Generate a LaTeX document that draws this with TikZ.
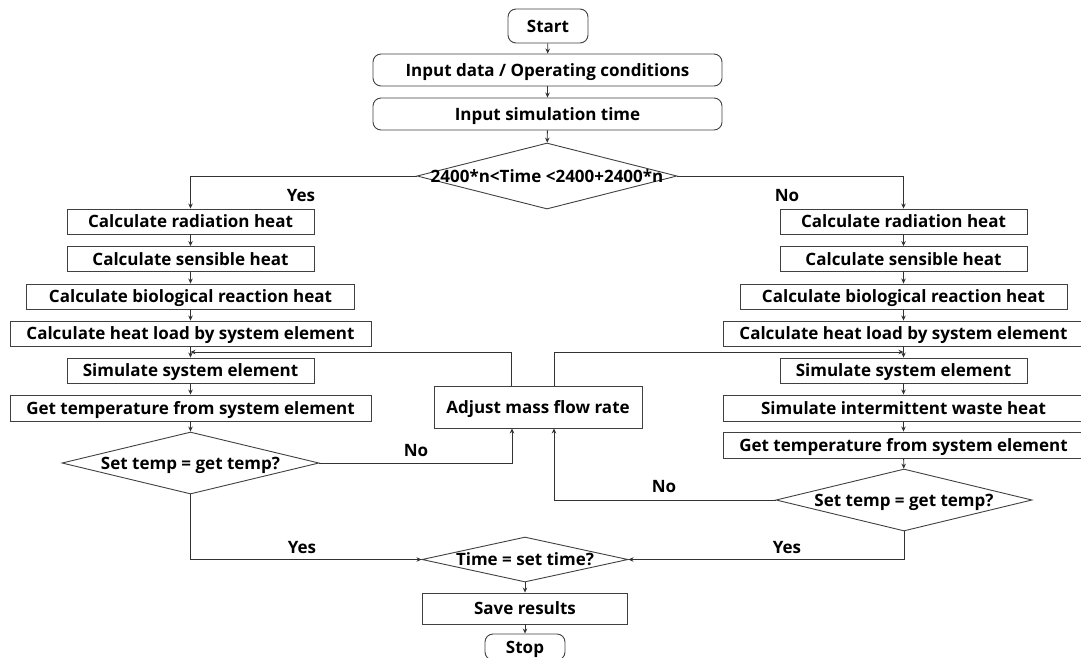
\documentclass[tikz,border=0pt]{standalone}
\usepackage{fontspec}
\setmainfont{Open Sans}
\usetikzlibrary{shapes.geometric,arrows.meta}
\begin{document}
\begin{tikzpicture}[x=1pt,y=-1pt,
  font=\fontsize{17}{19}\selectfont\bfseries,
  every node/.style={inner sep=0pt, line width=0.9pt, draw=black!75, text=black, text height=12pt, text depth=0pt},
  box/.style={rectangle},
  rbox/.style={rectangle, rounded corners=8pt},
  dia/.style={diamond},
  lbl/.style={draw=none},
  arr/.style={draw=black!80, line width=0.8pt, -{Stealth[length=5pt,width=4.5pt]}},
  ln/.style={draw=black!80, line width=0.8pt}]
\useasboundingbox (0,0) rectangle (1081,657);
\clip (0,0) rectangle (1081,657);
% top
\node[rbox, minimum width=80, minimum height=34] (start) at (548,26) {Start};
\node[rbox, minimum width=349, minimum height=32] (in1) at (547.5,70) {Input data / Operating conditions};
\node[rbox, minimum width=349, minimum height=32] (in2) at (547.5,114) {Input simulation time};
\node[dia, minimum width=260, minimum height=66] (dec) at (547,176) {\makebox[0pt]{2400*n<Time <2400+2400*n}};
% left column
\node[box, minimum width=247, minimum height=25] (L1) at (190.5,221.5) {Calculate radiation heat};
\node[box, minimum width=247, minimum height=25] (L2) at (190.5,259) {Calculate sensible heat};
\node[box, minimum width=328, minimum height=25] (L3) at (190.5,296.5) {Calculate biological reaction heat};
\node[box, minimum width=361, minimum height=25] (L4) at (190.5,333.5) {Calculate heat load by system element};
\node[box, minimum width=247, minimum height=25] (L5) at (190.5,370.5) {Simulate system element};
\node[box, minimum width=361, minimum height=26] (L6) at (190.5,408) {Get temperature from system element};
\node[dia, minimum width=257, minimum height=62] (ld) at (190.5,463) {\makebox[0pt]{Set temp = get temp?}};
% right column
\node[box, minimum width=247, minimum height=25] (R1) at (903.5,221.5) {Calculate radiation heat};
\node[box, minimum width=247, minimum height=25] (R2) at (903.5,259) {Calculate sensible heat};
\node[box, minimum width=327, minimum height=25] (R3) at (903.5,296.5) {Calculate biological reaction heat};
\node[box, minimum width=361, minimum height=25] (R4) at (903.5,333.5) {Calculate heat load by system element};
\node[box, minimum width=247, minimum height=25] (R5) at (903.5,370.5) {Simulate system element};
\node[box, minimum width=361, minimum height=26] (R6) at (903.5,408) {Simulate intermittent waste heat};
\node[box, minimum width=361, minimum height=26] (R7) at (903.5,445) {Get temperature from system element};
\node[dia, minimum width=256, minimum height=62] (rd) at (904,500) {\makebox[0pt]{Set temp = get temp?}};
% middle
\node[box, minimum width=208, minimum height=42] (adj) at (538,407) {Adjust mass flow rate};
\node[dia, minimum width=206, minimum height=45] (td) at (525,559.5) {\makebox[0pt]{Time = set time?}};
\node[box, minimum width=205, minimum height=31] (save) at (525,608.5) {Save results};
\node[rbox, minimum width=80, minimum height=26] (stop) at (525,647) {Stop};
% merge points
\coordinate (mL) at (190.5,352);
\coordinate (mR) at (903.5,352);
% connectors
\draw[arr] (start) -- (in1);
\draw[arr] (in1) -- (in2);
\draw[arr] (in2) -- (dec);
\draw[arr] (dec.west) -| (L1.north);
\draw[arr] (dec.east) -| (R1.north);
\draw[arr] (L1) -- (L2);
\draw[arr] (L2) -- (L3);
\draw[arr] (L3) -- (L4);
\draw[arr] (L4) -- (L5);
\draw[arr] (L5) -- (L6);
\draw[arr] (L6) -- (ld);
\draw[arr] (R1) -- (R2);
\draw[arr] (R2) -- (R3);
\draw[arr] (R3) -- (R4);
\draw[arr] (R4) -- (R5);
\draw[arr] (R5) -- (R6);
\draw[arr] (R6) -- (R7);
\draw[arr] (R7) -- (rd);
\draw[arr] ([xshift=-27pt]adj.north) |- (mL);
\draw[arr] ([xshift=16pt]adj.north) |- (mR);
\draw[arr] (ld.east) -| ([xshift=-26pt]adj.south);
\draw[arr] (rd.west) -| ([xshift=16pt]adj.south);
\draw[arr] (ld.south) |- (td.west);
\draw[arr] (rd.south) |- (td.east);
\draw[arr] (td) -- (save);
\draw[arr] (save) -- (stop);
% labels
\node[lbl] (y1) at (301,195) {Yes};
\node[lbl] (n1) at (787,195) {No};
\node[lbl] (n2) at (416,450) {No};
\node[lbl] (n3) at (664,486) {No};
\node[lbl] (y2) at (302,547) {Yes};
\node[lbl] (y3) at (787,547) {Yes};
\end{tikzpicture}
\end{document}
